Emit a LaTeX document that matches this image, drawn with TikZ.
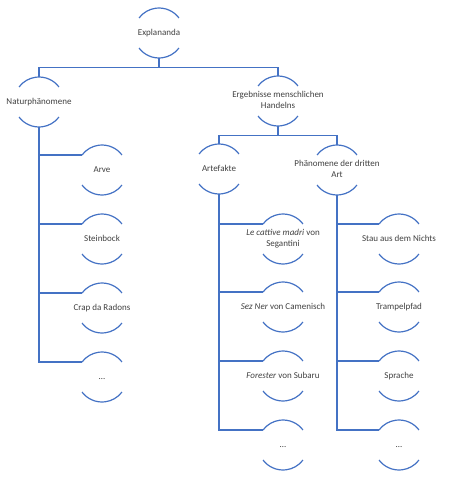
\documentclass[tikz,border=0pt]{standalone}
\usepackage{fontspec}
\setmainfont{Carlito}
\definecolor{lineblue}{RGB}{68,114,196}
\definecolor{txt}{RGB}{64,64,64}
\newcommand{\ctext}[1]{\makebox[0pt]{\begin{tabular}{@{}c@{}}#1\end{tabular}}}
\begin{document}
\begin{tikzpicture}[x=1pt,y=1pt,
  cnode/.style={circle, minimum size=50pt, inner sep=0pt, outer sep=0pt,
    font=\fontsize{9}{10.5}\selectfont, text=txt},
  ln/.style={color=lineblue, line width=1.2pt}]
\useasboundingbox (0,0) rectangle (450,-480);
\newcommand{\arcs}[1]{%
  \draw[ln] (#1.37) arc[start angle=37,end angle=143,radius=25pt];
  \draw[ln] (#1.217) arc[start angle=217,end angle=323,radius=25pt];}
% nodes
\node[cnode] (E) at (159,-33) {\ctext{Explananda}};
\node[cnode] (N) at (39,-102) {\ctext{Naturphänomene}};
\node[cnode] (H) at (278,-101) {\ctext{Ergebnisse menschlichen\\Handelns}};
\node[cnode] (A) at (219,-169) {\ctext{Artefakte}};
\node[cnode] (P) at (337,-170) {\ctext{Phänomene der dritten\\Art}};
\node[cnode] (n1) at (102,-170) {\ctext{Arve}};
\node[cnode] (n2) at (102,-239) {\ctext{Steinbock}};
\node[cnode] (n3) at (102,-308) {\ctext{Crap da Radons}};
\node[cnode] (n4) at (102,-377) {\ctext{…}};
\node[cnode] (a1) at (283,-239) {\ctext{\textit{Le cattive madri} von\\Segantini}};
\node[cnode] (a2) at (283,-307) {\ctext{\textit{Sez Ner} von Camenisch}};
\node[cnode] (a3) at (283,-376) {\ctext{\textit{Forester} von Subaru}};
\node[cnode] (a4) at (283,-445) {\ctext{…}};
\node[cnode] (p1) at (399,-239) {\ctext{Stau aus dem Nichts}};
\node[cnode] (p2) at (399,-307) {\ctext{Trampelpfad}};
\node[cnode] (p3) at (399,-376) {\ctext{Sprache}};
\node[cnode] (p4) at (399,-445) {\ctext{…}};
\foreach \n in {E,N,H,A,P,n1,n2,n3,n4,a1,a2,a3,a4,p1,p2,p3,p4}{\arcs{\n}}
% connectors
\draw[ln] (E.south) -- ++(0,-9.5) -| (N.north);
\draw[ln] (E.south) -- ++(0,-9.5) -| (H.north);
\draw[ln] (H.south) -- ++(0,-9.5) -| (A.north);
\draw[ln] (H.south) -- ++(0,-9.5) -| (P.north);
\foreach \c in {n1,n2,n3,n4}{\draw[ln] (N.south) |- (\c.143);}
\foreach \c in {a1,a2,a3,a4}{\draw[ln] (A.south) |- (\c.143);}
\foreach \c in {p1,p2,p3,p4}{\draw[ln] (P.south) |- (\c.143);}
\end{tikzpicture}
\end{document}
